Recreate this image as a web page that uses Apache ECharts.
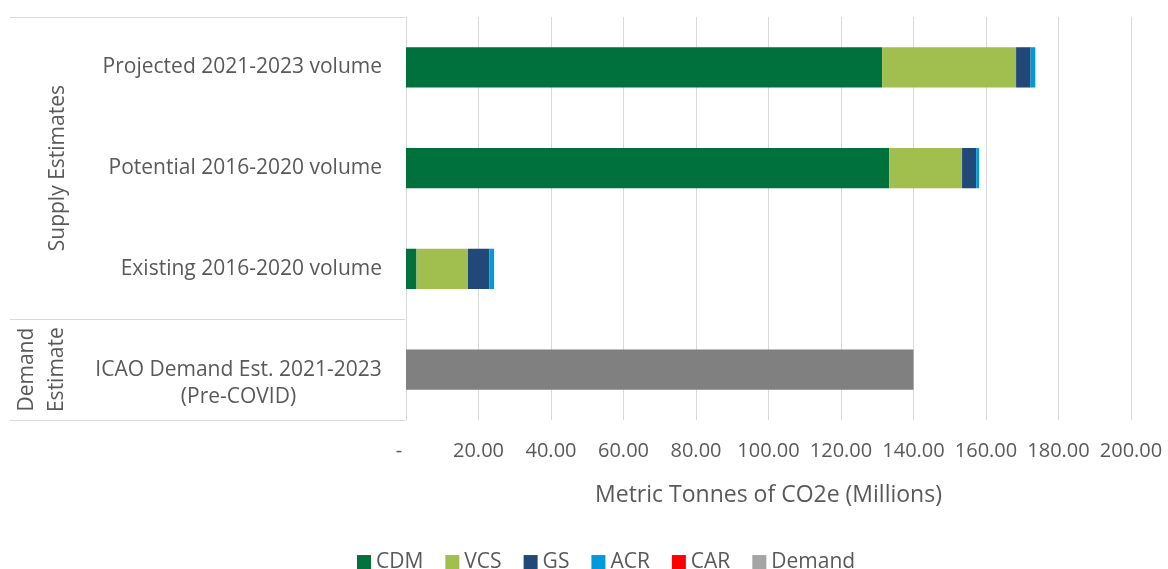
<!DOCTYPE html>
<html>
  <head>
    <title>Supply vs Demand Estimates</title>
    <style>
      html, body {
        margin: 0;
        padding: 0;
        width: 100%;
        height: 100%;
        background: #fff;
      }
      #container {
        width: 1168px;
        height: 569px;
      }
    </style>
  </head>
  <body>
    <div id="container"></div>
    <script src="https://cdn.jsdelivr.net/npm/echarts/dist/echarts.min.js"></script>
    <script type="text/javascript">

      // categories, bottom to top
      const categories = [
        'ICAO Demand Est. 2021-2023 (Pre-COVID)',
        'Existing 2016-2020 volume',
        'Potential 2016-2020 volume',
        'Projected 2021-2023 volume'
      ];
      const groups = [
        { name: 'Demand\nEstimate', from: 0, to: 0 },
        { name: 'Supply Estimates', from: 1, to: 3 }
      ];

      const cdmValues = [0, 2.9, 133.3, 131.4];
      const vcsValues = [0, 14.2, 20.1, 36.9];
      const gsValues = [0, 5.9, 3.9, 4.0];
      const acrValues = [0, 1.3, 0.8, 1.3];
      const carValues = [0, 0, 0, 0];
      const demandValues = [140.0, 0, 0, 0];

      const xTicks = { min: 0, max: 200, interval: 20 };

      const FONT = '"Open Sans", sans-serif';
      const TEXT = '#595959';
      const GRID_LINE = '#d9d9d9';
      const LABEL_SIZE = 21;

      const measure = (text, size) => {
        const ctx = document.createElement('canvas').getContext('2d');
        ctx.font = size + 'px "Open Sans"';
        return Math.ceil(ctx.measureText(text).width);
      };

      const buildSeries = () => {
        const defs = [
          ['CDM', cdmValues, '#00703c'],
          ['VCS', vcsValues, '#a0bf4e'],
          ['GS', gsValues, '#22487a'],
          ['ACR', acrValues, '#0099da'],
          ['CAR', carValues, '#ff0000'],
          ['Demand', demandValues, '#808080']
        ];
        return defs.map(([name, values, color]) => ({
          name: name,
          type: 'bar',
          stack: 'total',
          barWidth: '40%',
          itemStyle: { color: color },
          data: values.map(v => (v === 0 ? null : v))
        }));
      };

      const initializeChart = () => {
        const chart = echarts.init(document.getElementById('container'));
        const longLabel = 'ICAO Demand Est. 2021-2023';
        const longWidth = measure(longLabel, LABEL_SIZE);

        chart.setOption({
          animation: false,
          textStyle: { fontFamily: FONT, color: TEXT },
          grid: { left: 406, right: 37, top: 17, bottom: 149 },
          legend: {
            top: 540,
            left: 352,
            itemWidth: 14,
            itemHeight: 14,
            itemGap: 22,
            icon: 'rect',
            textStyle: { fontFamily: FONT, fontSize: 21, color: TEXT },
            data: ['CDM', 'VCS', 'GS', 'ACR', 'CAR',
              { name: 'Demand', itemStyle: { color: '#a5a5a5' } }]
          },
          xAxis: {
            type: 'value',
            min: xTicks.min,
            max: xTicks.max,
            interval: xTicks.interval,
            name: 'Metric Tonnes of CO2e (Millions)',
            nameLocation: 'middle',
            nameGap: 57,
            nameTextStyle: { fontFamily: FONT, fontSize: 23, color: TEXT },
            axisLine: { show: false },
            axisTick: { show: false },
            splitLine: { show: true, lineStyle: { color: GRID_LINE, width: 1 } },
            axisLabel: {
              margin: 15,
              fontFamily: FONT,
              fontSize: 20,
              color: TEXT,
              formatter: v => (v === 0 ? '{d|-}' : v.toFixed(2)),
              rich: { d: { fontFamily: FONT, fontSize: 20, color: TEXT, padding: [0, 14, 0, 0] } }
            }
          },
          yAxis: {
            type: 'category',
            data: categories,
            axisLine: { show: true, lineStyle: { color: GRID_LINE, width: 1 } },
            axisTick: { show: false },
            axisLabel: {
              margin: 24,
              fontFamily: FONT,
              fontSize: LABEL_SIZE,
              color: TEXT,
              formatter: v => {
                if (v.indexOf('(Pre-COVID)') < 0) return v;
                return '{s| }\n{c|' + longLabel + '}\n{c|(Pre-COVID)}';
              },
              rich: {
                s: { fontSize: LABEL_SIZE, lineHeight: 27 },
                c: { fontFamily: FONT, fontSize: LABEL_SIZE, color: TEXT, lineHeight: 27, width: longWidth, align: 'center' }
              }
            }
          },
          series: buildSeries()
        });

        // left-hand group labels and separators
        const c0 = chart.convertToPixel({ yAxisIndex: 0 }, 0);
        const c1 = chart.convertToPixel({ yAxisIndex: 0 }, 1);
        const band = c0 - c1;
        const edge = i => chart.convertToPixel({ yAxisIndex: 0 }, i) + band / 2;
        const lineX0 = 10;
        const lineX1 = 405;

        const boundaries = [edge(0), edge(1), edge(3) - band];
        const elements = boundaries.map(y => ({
          type: 'line',
          shape: { x1: lineX0, y1: Math.round(y) + 0.5, x2: lineX1, y2: Math.round(y) + 0.5 },
          style: { stroke: GRID_LINE, lineWidth: 1 }
        }));

        groups.forEach(g => {
          const yc = (chart.convertToPixel({ yAxisIndex: 0 }, g.from) +
            chart.convertToPixel({ yAxisIndex: 0 }, g.to)) / 2;
          const lines = g.name.split('\n');
          elements.push({
            type: 'text',
            x: lines.length > 1 ? 42 : 58,
            y: yc,
            rotation: Math.PI / 2,
            style: {
              text: g.name,
              fill: TEXT,
              font: LABEL_SIZE + 'px ' + FONT,
              lineHeight: 30,
              align: 'center',
              verticalAlign: 'middle'
            }
          });
        });

        chart.setOption({ graphic: elements });
      };

      document.addEventListener('DOMContentLoaded', initializeChart);
    </script>
  </body>
</html>
